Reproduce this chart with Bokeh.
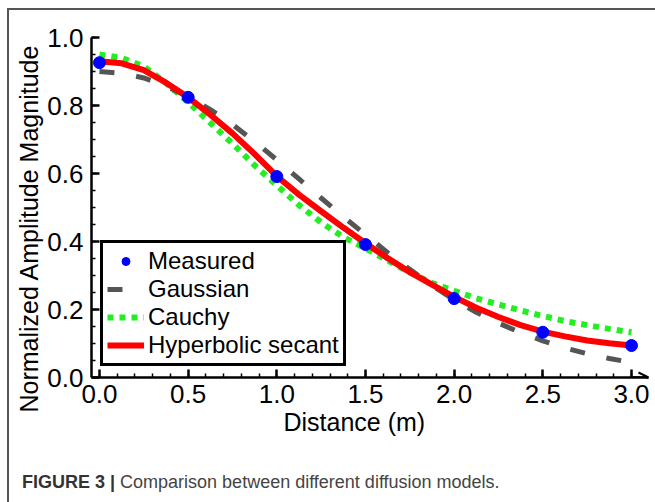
from bokeh.plotting import figure
from bokeh.models import (Range1d, Legend, LegendItem, Title, FixedTicker, Arrow,
                          OpenHead, Div, PrintfTickFormatter)
from bokeh.layouts import column
from bokeh.embed import file_html
from bokeh.resources import INLINE

# ---------------- data ----------------
distance_measured = [0.0, 0.5, 1.0, 1.5, 2.0, 2.5, 3.0]
amplitude_measured = [0.926, 0.824, 0.591, 0.391, 0.232, 0.133, 0.094]

distance_model = [0.0, 0.125, 0.25, 0.375, 0.5, 0.625, 0.75, 0.875, 1.0, 1.125, 1.25, 1.375,
                  1.5, 1.625, 1.75, 1.875, 2.0, 2.125, 2.25, 2.375, 2.5, 2.625, 2.75, 2.875, 3.0]
gaussian = [0.900, 0.895, 0.881, 0.857, 0.826, 0.788, 0.744, 0.694, 0.640, 0.584, 0.528, 0.473,
            0.420, 0.367, 0.318, 0.271, 0.228, 0.192, 0.160, 0.132, 0.108, 0.087, 0.070, 0.056, 0.044]
cauchy = [0.950, 0.940, 0.915, 0.866, 0.810, 0.749, 0.688, 0.624, 0.565, 0.507, 0.456, 0.413,
          0.380, 0.344, 0.309, 0.278, 0.255, 0.233, 0.215, 0.197, 0.181, 0.166, 0.154, 0.143, 0.133]
hyperbolic_secant = [0.930, 0.924, 0.904, 0.867, 0.824, 0.773, 0.718, 0.657, 0.592, 0.538, 0.489, 0.441,
                     0.395, 0.351, 0.310, 0.273, 0.237, 0.205, 0.178, 0.154, 0.135, 0.121, 0.109, 0.101, 0.094]

x_major_ticks = [0.0, 0.5, 1.0, 1.5, 2.0, 2.5, 3.0]
y_major_ticks = [0.0, 0.2, 0.4, 0.6, 0.8, 1.0]

x_start, x_end = -0.045, 3.096
y_start, y_end = 0.0, 1.0

TICK_FONT = "Liberation Sans"
TEXT_FONT = "Liberation Sans"

p = figure(width=646, height=450,
           x_range=Range1d(x_start, x_end), y_range=Range1d(y_start, y_end),
           output_backend="svg", toolbar_location=None,
           min_border_left=82, min_border_right=7,
           min_border_top=27, min_border_bottom=83)
p.xgrid.visible = False
p.ygrid.visible = False
p.outline_line_color = None
p.background_fill_color = "white"
p.border_fill_color = "white"

x_minor = [round(i * 0.1, 2) for i in range(0, 31)]
y_minor = [round(i * 0.05, 2) for i in range(0, 21)]
p.xaxis.ticker = FixedTicker(ticks=x_major_ticks, minor_ticks=x_minor)
p.yaxis.ticker = FixedTicker(ticks=y_major_ticks, minor_ticks=y_minor)

for ax in (p.xaxis[0], p.yaxis[0]):
    ax.formatter = PrintfTickFormatter(format="%.1f")
    ax.axis_line_width = 2.5
    ax.axis_line_color = "black"
    ax.major_tick_in = 8
    ax.major_tick_out = 0
    ax.minor_tick_in = 4
    ax.minor_tick_out = 0
    ax.major_tick_line_width = 2.5
    ax.minor_tick_line_width = 1.5
    ax.major_tick_line_color = "black"
    ax.minor_tick_line_color = "black"
    ax.major_label_text_font = TICK_FONT
    ax.major_label_text_font_size = "26px"
    ax.major_label_text_color = "black"
p.xaxis.major_label_standoff = 7
p.yaxis.major_label_standoff = 8

# axis arrow at the end of the x axis
p.add_layout(Arrow(end=OpenHead(size=10, line_width=2, line_color="black"),
                   x_start=x_major_ticks[-1], y_start=y_start, x_end=x_end, y_end=y_start,
                   line_width=2.5, line_color="black"))

# ---------------- series ----------------
r_c = p.line(distance_model, cauchy, line_color="#22ee22", line_width=6, line_dash="6 6")
r_g = p.line(distance_model, gaussian, line_color="#555555", line_width=5, line_dash="15 22")
r_h = p.line(distance_model, hyperbolic_secant, line_color="#ff0000", line_width=6)
r_m = p.scatter(distance_measured, amplitude_measured, size=12, color="#0000ff")

legend = Legend(items=[LegendItem(label="Measured", renderers=[r_m]),
                       LegendItem(label="Gaussian", renderers=[r_g]),
                       LegendItem(label="Cauchy", renderers=[r_c]),
                       LegendItem(label="Hyperbolic secant", renderers=[r_h])],
                location=(9, 11), margin=0, padding=4, spacing=0,
                glyph_width=37, glyph_height=20, label_standoff=4,
                label_text_font=TEXT_FONT, label_text_font_size="24px",
                label_text_color="black",
                border_line_color="black", border_line_width=3, border_line_alpha=1.0,
                background_fill_color="white", background_fill_alpha=1.0)
p.add_layout(legend)

# axis titles
p.add_layout(Title(text="Normalized Amplitude Magnitude", align="left", offset=-35,
                   text_font=TEXT_FONT, text_font_size="25px", text_font_style="normal",
                   text_color="black", standoff=4), "left")
p.add_layout(Title(text="Distance (m)", align="left", offset=192,
                   text_font=TEXT_FONT, text_font_size="25px", text_font_style="normal",
                   text_color="black", standoff=0), "below")

caption = Div(text='<b style="color:#333333">FIGURE 3 |</b> Comparison between different diffusion models.',
              width=640, height=42,
              styles={"font-family": "Liberation Sans", "font-size": "18px", "color": "#444444",
                      "padding-left": "8px", "padding-top": "5px"})

layout = column(p, caption, margin=(8, 0, 0, 7),
                styles={"border-left": "2px solid #555555", "border-top": "2px solid #555555"})

open("out.html", "w").write(file_html(layout, INLINE))
